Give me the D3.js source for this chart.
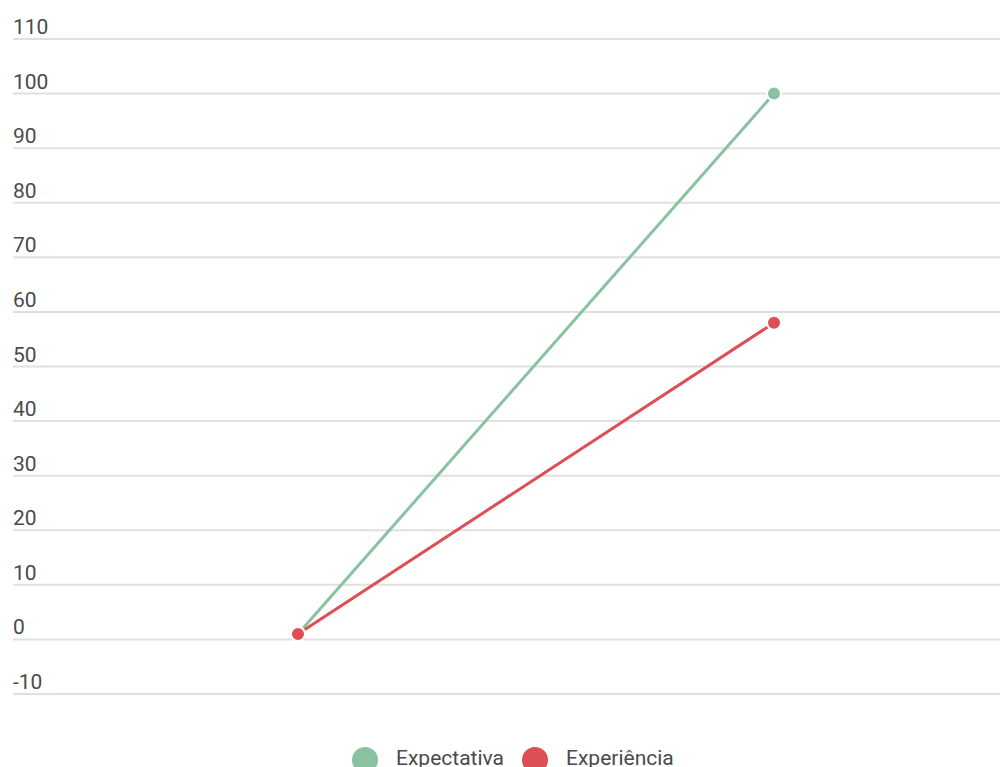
<!DOCTYPE html>
<html><head><meta charset="utf-8">
<script src="https://cdn.jsdelivr.net/npm/d3@7"></script>
<style>html,body{margin:0;padding:0;background:#fff;overflow:hidden}</style>
</head><body>
<svg id="c" width="1000" height="767"></svg>
<script>
const categories = ["A", "B"];
const seriesNames = ["Expectativa", "Experiência"];
const expectativa = [1, 100];
const experiencia = [1, 58];
const yTicks = [-10, 0, 10, 20, 30, 40, 50, 60, 70, 80, 90, 100, 110];
const colors = ["#88c2a1", "#de4f53"];

const svg = d3.select("#c");
const y = d3.scaleLinear().domain([-10, 110]).range([694, 39]);
const x = d3.scalePoint().domain(categories).range([60, 1012]).padding(0.5);

const grid = svg.append("g");
grid.selectAll("line").data(yTicks).join("line")
  .attr("x1", 13).attr("x2", 1000)
  .attr("y1", d => y(d)).attr("y2", d => y(d))
  .attr("stroke", "#e0e0e0").attr("stroke-width", 2);
grid.selectAll("text").data(yTicks).join("text")
  .attr("x", 13).attr("y", d => y(d) - 5)
  .attr("font-family", "Roboto").attr("font-size", 21)
  .attr("fill", "#4a4a4a").text(d => d);

const series = [expectativa, experiencia];
const line = d3.line().x((d, i) => x(categories[i])).y(d => y(d));
series.forEach((s, k) => {
  svg.append("path").datum(s).attr("d", line)
    .attr("fill", "none").attr("stroke", colors[k]).attr("stroke-width", 3);
});
series.forEach((s, k) => {
  svg.append("g").selectAll("circle").data(s).join("circle")
    .attr("cx", (d, i) => x(categories[i])).attr("cy", d => y(d))
    .attr("r", 7).attr("fill", colors[k]).attr("stroke", "#fff").attr("stroke-width", 2);
});

const legend = svg.append("g");
const lx = [365, 535];
seriesNames.forEach((n, k) => {
  legend.append("circle").attr("cx", lx[k]).attr("cy", 760).attr("r", 13).attr("fill", colors[k]);
  legend.append("text").attr("x", lx[k] + 31).attr("y", 765)
    .attr("font-family", "Roboto").attr("font-size", 21).attr("fill", "#4a4a4a").text(n);
});
</script>
</body></html>
